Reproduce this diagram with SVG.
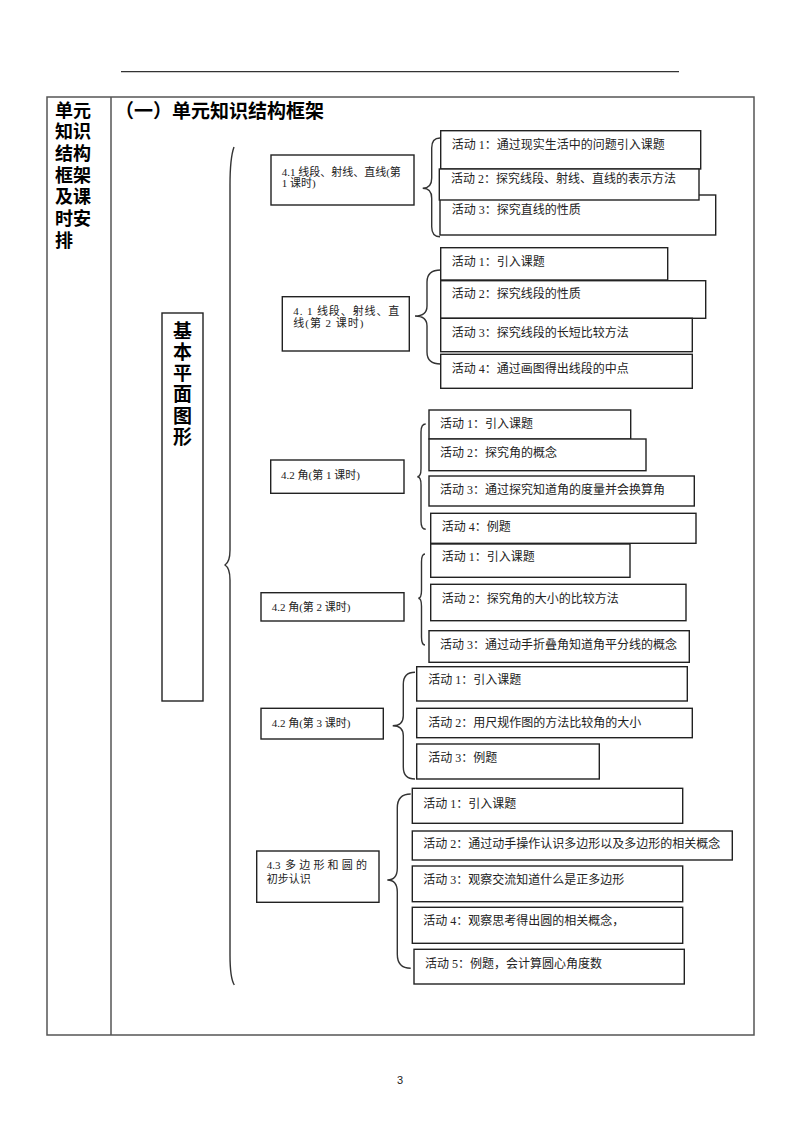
<svg xmlns="http://www.w3.org/2000/svg" width="800" height="1132" viewBox="0 0 800 1132">
<style>
.tbl{fill:none;stroke:#555;stroke-width:1.5}
.box{fill:#fff;stroke:#222;stroke-width:1.4}
.brace{fill:none;stroke:#333;stroke-width:1.4}
.t{font-family:"Liberation Serif","Noto Sans CJK SC",serif;font-size:12px;fill:#222}
.n{font-family:"Liberation Serif","Noto Sans CJK SC",serif;font-size:11px;fill:#222}
.h{font-family:"Liberation Sans","Noto Sans CJK SC",sans-serif;font-weight:bold;fill:#000}
</style>
<rect width="800" height="1132" fill="#fff"/>
<g id="page">
<line x1="121" y1="71.7" x2="679" y2="71.7" stroke="#333" stroke-width="1.3"/>
<rect class="tbl" x="47" y="97" width="707" height="938"/>
<line class="tbl" x1="111" y1="97" x2="111" y2="1035"/>
<text class="h" font-size="18" x="55"><tspan x="55" y="116.5">单元</tspan><tspan x="55" y="138">知识</tspan><tspan x="55" y="160">结构</tspan><tspan x="55" y="181.5">框架</tspan><tspan x="55" y="203">及课</tspan><tspan x="55" y="225">时安</tspan><tspan x="55" y="246.5">排</tspan></text>
<text class="h" font-size="19" x="115" y="118">（一）单元知识结构框架</text>
<text x="400" y="1084" font-family="Liberation Sans,sans-serif" font-size="11" text-anchor="middle" fill="#222">3</text>
</g>
<g id="connectors">
<path class="brace" d="M234 147 Q230 158 230 185 L230 550 Q230 562 225 565 Q230 568 230 580 L230 955 Q230 978 234.3 985"/>
<path class="brace" d="M440 138 Q431.7 138 431.7 148 L431.7 178.3 Q431.7 188.3 422.7 188.3 Q431.7 188.3 431.7 198.3 L431.7 226.7 Q431.7 236.7 440 236.7"/>
<path class="brace" d="M440.7 270 Q427 270 427 282 L427 306 Q427 316 415 316 Q427 316 427 326 L427 352 Q427 364 440.7 364"/>
<path class="brace" d="M425.7 424 Q421 424 421 432 L421 468.7 Q421 476.7 417.3 476.7 Q421 476.7 421 484.7 L421 521.3 Q421 529.3 425.7 529.3"/>
<path class="brace" d="M425 554 Q421.5 554 421.5 562 L421.5 590.3 Q421.5 598.3 418.3 598.3 Q421.5 598.3 421.5 606.3 L421.5 637 Q421.5 645 425 645"/>
<path class="brace" d="M415 672.3 Q403.3 672.3 403.3 684.3 L403.3 715.7 Q403.3 725.7 392.7 725.7 Q403.3 725.7 403.3 735.7 L403.3 767 Q403.3 779 415 779"/>
<path class="brace" d="M410.7 794 Q397.3 794 397.3 808 L397.3 868 Q397.3 880 387.3 880 Q397.3 880 397.3 892 L397.3 954.3 Q397.3 968.3 410.7 968.3"/>
</g>
<g id="root">
<rect class="box" x="162" y="313" width="41" height="388"/>
<text class="h" font-size="19" text-anchor="middle"><tspan x="182.5" y="338">基</tspan><tspan x="182.5" y="359">本</tspan><tspan x="182.5" y="380">平</tspan><tspan x="182.5" y="401">面</tspan><tspan x="182.5" y="422.5">图</tspan><tspan x="182.5" y="444">形</tspan></text>
</g>
<g id="n1">
<rect class="box" x="271" y="155" width="143" height="50"/>
<text class="n"><tspan x="281.7" y="175.5">4.1 线段、射线、直线(第</tspan><tspan x="281.7" y="186.5">1 课时)</tspan></text>
</g>
<g id="n1-a1"><rect class="box" x="440.7" y="130.7" width="260" height="38.3"/><text class="t" x="451.7" y="149">活动 1：通过现实生活中的问题引入课题</text></g>
<g id="n1-a3"><rect class="box" x="440" y="195" width="275.7" height="40"/><text class="t" x="451.7" y="213.5">活动 3：探究直线的性质</text></g>
<g id="n1-a2"><rect class="box" x="439.3" y="169" width="259.7" height="31"/><text class="t" x="451" y="182.5">活动 2：探究线段、射线、直线的表示方法</text></g>
<g id="n2">
<rect class="box" x="282.3" y="296.7" width="127" height="54.3"/>
<text class="n"><tspan x="293.3" y="314.7" textLength="106" lengthAdjust="spacing">4. 1 线段、射线、直</tspan><tspan x="293.3" y="327.3" textLength="70" lengthAdjust="spacing">线(第 2 课时)</tspan></text>
</g>
<g id="n2-a1"><rect class="box" x="440.7" y="247.7" width="227" height="32.3"/><text class="t" x="451.7" y="266">活动 1：引入课题</text></g>
<g id="n2-a2"><rect class="box" x="440.7" y="280.7" width="265" height="37.6"/><text class="t" x="451.7" y="298">活动 2：探究线段的性质</text></g>
<g id="n2-a3"><rect class="box" x="440.7" y="318.3" width="251.6" height="33.4"/><text class="t" x="451.7" y="336.5">活动 3：探究线段的长短比较方法</text></g>
<g id="n2-a4"><rect class="box" x="440.7" y="354.3" width="251.6" height="34"/><text class="t" x="451.7" y="372.5">活动 4：通过画图得出线段的中点</text></g>
<g id="n3">
<rect class="box" x="270.7" y="460" width="133.3" height="33.3"/>
<text class="n" x="281" y="479">4.2 角(第 1 课时)</text>
</g>
<g id="n3-a1"><rect class="box" x="429" y="410" width="201.7" height="29"/><text class="t" x="440" y="428">活动 1：引入课题</text></g>
<g id="n3-a2"><rect class="box" x="429" y="439" width="217" height="31.7"/><text class="t" x="440" y="457">活动 2：探究角的概念</text></g>
<g id="n3-a3"><rect class="box" x="429" y="476" width="265.3" height="30"/><text class="t" x="440" y="493.5">活动 3：通过探究知道角的度量并会换算角</text></g>
<g id="n3-a4"><rect class="box" x="430.7" y="513.3" width="265.3" height="30"/><text class="t" x="441.7" y="531">活动 4：例题</text></g>
<g id="n4">
<rect class="box" x="261" y="592.7" width="143" height="28.3"/>
<text class="n" x="271.7" y="610.7">4.2 角(第 2 课时)</text>
</g>
<g id="n4-a1"><rect class="box" x="430.7" y="544" width="199.3" height="33.3"/><text class="t" x="441.7" y="561">活动 1：引入课题</text></g>
<g id="n4-a2"><rect class="box" x="430.7" y="584.3" width="255.3" height="36.4"/><text class="t" x="441.7" y="602.5">活动 2：探究角的大小的比较方法</text></g>
<g id="n4-a3"><rect class="box" x="429" y="630.7" width="260.3" height="31.6"/><text class="t" x="440" y="649">活动 3：通过动手折叠角知道角平分线的概念</text></g>
<g id="n5">
<rect class="box" x="261" y="708.3" width="122.3" height="30.7"/>
<text class="n" x="271.7" y="726.7">4.2 角(第 3 课时)</text>
</g>
<g id="n5-a1"><rect class="box" x="416.7" y="666.7" width="270.6" height="34.3"/><text class="t" x="428.3" y="684">活动 1：引入课题</text></g>
<g id="n5-a2"><rect class="box" x="416.7" y="708.3" width="275.6" height="29.4"/><text class="t" x="428.3" y="727">活动 2：用尺规作图的方法比较角的大小</text></g>
<g id="n5-a3"><rect class="box" x="416.7" y="744" width="182.6" height="35"/><text class="t" x="428.3" y="761.5">活动 3：例题</text></g>
<g id="n6">
<rect class="box" x="256.7" y="851" width="122.3" height="51.3"/>
<text class="n"><tspan x="266.7" y="869">4.3</tspan><tspan x="285" y="869" letter-spacing="3.2">多边形和圆的</tspan><tspan x="266.7" y="883.3">初步认识</tspan></text>
</g>
<g id="n6-a1"><rect class="box" x="412.3" y="788.3" width="270.4" height="35"/><text class="t" x="423.3" y="807.5">活动 1：引入课题</text></g>
<g id="n6-a2"><rect class="box" x="412.3" y="831" width="320" height="29"/><text class="t" x="423.3" y="848">活动 2：通过动手操作认识多边形以及多边形的相关概念</text></g>
<g id="n6-a3"><rect class="box" x="412.3" y="866" width="270.4" height="35.7"/><text class="t" x="423.3" y="883.5">活动 3：观察交流知道什么是正多边形</text></g>
<g id="n6-a4"><rect class="box" x="412.3" y="907.3" width="270.4" height="36"/><text class="t" x="423.3" y="925">活动 4：观察思考得出圆的相关概念，</text></g>
<g id="n6-a5"><rect class="box" x="414" y="949.3" width="270.3" height="34.7"/><text class="t" x="425" y="968">活动 5：例题，会计算圆心角度数</text></g>
</svg>
